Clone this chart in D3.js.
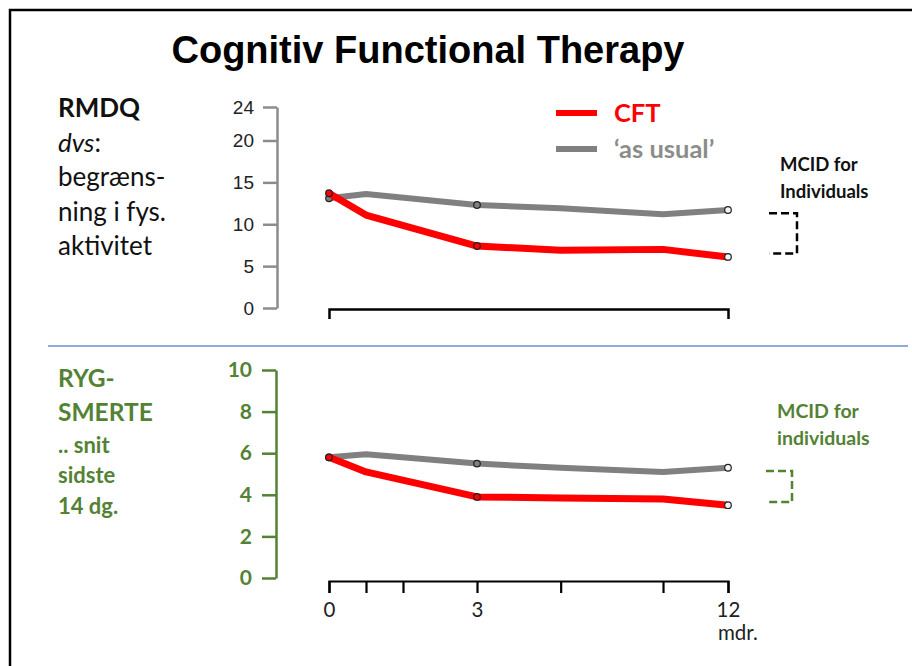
<!DOCTYPE html>
<html>
<head>
<meta charset="utf-8">
<script src="https://cdn.jsdelivr.net/npm/d3@7"></script>
<style>
  body { margin: 0; background: #fff; }
  svg { display: block; }
  .lbl { font-family: Lato, "Open Sans", sans-serif; }
</style>
</head>
<body>
<div id="chart"></div>
<script>
// months after baseline, and the values
const months = [0, 0.75, 3, 6, 9.67, 12];
const rmdqCFT = [13.7, 11.1, 7.4, 6.9, 7.0, 6.1];
const rmdqUsual = [13.1, 13.6, 12.3, 11.9, 11.2, 11.7];
const painCFT = [5.8, 5.1, 3.9, 3.85, 3.8, 3.5];
const painUsual = [5.8, 5.95, 5.5, 5.3, 5.1, 5.3];
const markerMonths = [0, 3, 12];

const rmdqTicks = [0, 5, 10, 15, 20, 24];
const painTicks = [0, 2, 4, 6, 8, 10];
const monthTicks = [0, 0.75, 1.5, 3, 6, 9.67, 12];
const monthLabels = [0, 3, 12];

// MCID brackets: [low, high] on each y scale
const mcidRmdq = [6.5, 11.3];
const mcidPain = [3.65, 5.15];

const legendNames = ["CFT", "\u2018as usual\u2019"];

const width = 912,
  height = 666;
const red = "#ff0000",
  grey = "#808080",
  green = "#548235";

const svg = d3
  .select("#chart")
  .append("svg")
  .attr("width", width)
  .attr("height", height);

// frame (top and left edges only show)
svg
  .append("path")
  .attr("d", "M10,666V10H912")
  .attr("fill", "none")
  .attr("stroke", "#000")
  .attr("stroke-width", 2.5);

svg
  .append("text")
  .attr("x", 428)
  .attr("y", 63)
  .attr("text-anchor", "middle")
  .attr("font-family", "'Liberation Sans', Arial, sans-serif")
  .attr("font-weight", "bold")
  .attr("font-size", 38)
  .text("Cognitiv Functional Therapy");

// separator
svg
  .append("line")
  .attr("x1", 48)
  .attr("x2", 908)
  .attr("y1", 346)
  .attr("y2", 346)
  .attr("stroke", "#8faadc")
  .attr("stroke-width", 2);

// scales
const x = d3.scaleLinear().domain([0, 3, 12]).range([329, 477, 728]);
const yTop = d3.scaleLinear().domain([0, 24]).range([308, 107]);
const yBot = d3.scaleLinear().domain([0, 10]).range([578, 370]);

// left labels
const leftTop = svg
  .append("text")
  .attr("class", "lbl")
  .attr("font-size", 26)
  .attr("fill", "#111");
[
  { t: "RMDQ", w: "bold" },
  { t: "dvs", s: "italic", tail: ":" },
  { t: "begræns-" },
  { t: "ning i fys." },
  { t: "aktivitet" },
].forEach((d, i) => {
  const ts = leftTop.append("tspan").attr("x", 58).attr("y", 117 + i * 34.5);
  ts.append("tspan")
    .attr("font-weight", d.w || "normal")
    .attr("font-style", d.s || "normal")
    .text(d.t);
  if (d.tail) leftTop.append("tspan").text(d.tail);
});

const leftBot = svg
  .append("text")
  .attr("class", "lbl")
  .attr("font-weight", "bold")
  .attr("fill", green);
[
  { t: "RYG-", y: 387, f: 24.5 },
  { t: "SMERTE", y: 421, f: 24.5 },
  { t: ".. snit", y: 453, f: 22 },
  { t: "sidste", y: 483, f: 22 },
  { t: "14 dg.", y: 514, f: 22 },
].forEach((d) => {
  leftBot.append("tspan").attr("x", 58).attr("y", d.y).attr("font-size", d.f).text(d.t);
});

// y axes
const topAxis = svg
  .append("g")
  .attr("transform", "translate(277,0)")
  .call(d3.axisLeft(yTop).tickValues(rmdqTicks).tickSize(14).tickSizeOuter(0).tickPadding(9));
topAxis.selectAll("path, line").attr("stroke", "#8c8c8c").attr("stroke-width", 2.5);
topAxis
  .selectAll("text")
  .attr("font-family", "'Liberation Sans', Arial, sans-serif")
  .attr("font-size", 19)
  .attr("fill", "#222");

const botAxis = svg
  .append("g")
  .attr("transform", "translate(276,0)")
  .call(d3.axisLeft(yBot).tickValues(painTicks).tickSize(14).tickSizeOuter(0).tickPadding(10));
botAxis.selectAll("path, line").attr("stroke", green).attr("stroke-width", 2.5);
botAxis
  .selectAll("text")
  .attr("font-family", "Lato, sans-serif")
  .attr("font-weight", "bold")
  .attr("font-size", 21)
  .attr("fill", green);

// x axes
const topX = svg
  .append("g")
  .attr("transform", "translate(0,309)")
  .call(d3.axisBottom(x).tickValues([]).tickSizeOuter(10));
topX.select("path").attr("stroke", "#000").attr("stroke-width", 2.5);

const botX = svg
  .append("g")
  .attr("transform", "translate(0,581)")
  .call(
    d3
      .axisBottom(x)
      .tickValues(monthTicks)
      .tickSize(12)
      .tickSizeOuter(12)
      .tickPadding(9)
      .tickFormat((d) => (monthLabels.includes(d) ? d : ""))
  );
botX.selectAll("path, line").attr("stroke", "#000").attr("stroke-width", 2.2);
botX
  .selectAll("text")
  .attr("font-family", "Lato, sans-serif")
  .attr("font-size", 20.5)
  .attr("fill", "#222");

svg
  .append("text")
  .attr("class", "lbl")
  .attr("x", 718)
  .attr("y", 640)
  .attr("font-size", 20.5)
  .attr("fill", "#222")
  .text("mdr.");

// series
const drawSeries = (vals, y, color, w) => {
  const pts = months.map((m, i) => ({ m, v: vals[i] }));
  svg
    .append("path")
    .datum(pts)
    .attr("fill", "none")
    .attr("stroke", color)
    .attr("stroke-width", w)
    .attr("stroke-linejoin", "round")
    .attr("d", d3.line().x((d) => x(d.m)).y((d) => y(d.v)));
  svg
    .append("g")
    .selectAll("circle")
    .data(pts.filter((d) => markerMonths.includes(d.m)))
    .join("circle")
    .attr("cx", (d) => x(d.m))
    .attr("cy", (d) => y(d.v))
    .attr("r", 3.3)
    .attr("fill", (d) => (d.m === 12 ? "#f4f4f4" : color))
    .attr("stroke", "#222")
    .attr("stroke-width", 1.2);
};

drawSeries(rmdqUsual, yTop, grey, 6);
drawSeries(rmdqCFT, yTop, red, 7);
drawSeries(painUsual, yBot, grey, 6);
drawSeries(painCFT, yBot, red, 7);

// legend
const legend = svg.append("g");
legendNames.forEach((name, i) => {
  const c = i === 0 ? red : "#8c8c8c";
  const ly = 113 + i * 36;
  legend
    .append("line")
    .attr("x1", 556)
    .attr("x2", 597)
    .attr("y1", ly)
    .attr("y2", ly)
    .attr("stroke", i === 0 ? red : grey)
    .attr("stroke-width", 6);
  legend
    .append("text")
    .attr("class", "lbl")
    .attr("x", 614)
    .attr("y", ly + 9)
    .attr("font-size", 25.5)
    .attr("font-weight", "bold")
    .attr("fill", c)
    .text(name);
});

// MCID brackets
const drawMcid = (range, y, x0, x1, color) => {
  svg
    .append("path")
    .attr("d", `M${x0},${y(range[1])}H${x1}V${y(range[0])}H${x0}`)
    .attr("fill", "none")
    .attr("stroke", color)
    .attr("stroke-width", 2.5)
    .attr("stroke-dasharray", "8,4");
};
drawMcid(mcidRmdq, yTop, 769, 797, "#000");
drawMcid(mcidPain, yBot, 766, 792, green);

const mcidText = (lines, x0, y0, dy, size, color) => {
  const t = svg
    .append("text")
    .attr("class", "lbl")
    .attr("font-size", size)
    .attr("font-weight", "bold")
    .attr("fill", color);
  lines.forEach((l, i) => t.append("tspan").attr("x", x0).attr("y", y0 + i * dy).text(l));
};
mcidText(["MCID for", "Individuals"], 780, 171, 27, 18.5, "#111");
mcidText(["MCID for", "individuals"], 777, 418, 27, 19.5, green);
</script>
</body>
</html>
